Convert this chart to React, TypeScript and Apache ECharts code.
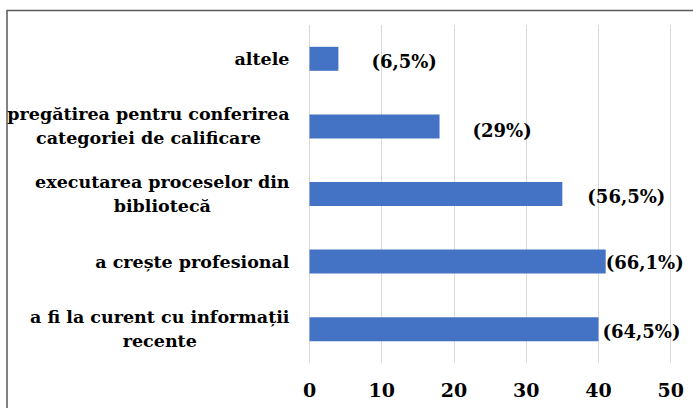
import React, { useEffect, useRef } from "react";
import * as echarts from "echarts";

const categories = [
  "a fi la curent cu informații\nrecente",
  "a crește profesional",
  "executarea proceselor din\nbibliotecă",
  "pregătirea pentru conferirea\ncategoriei de calificare",
  "altele",
];
const values = [40, 41, 35, 18, 4];
const valueLabels = ["(64,5%)", "(66,1%)", "(56,5%)", "(29%)", "(6,5%)"];
const labelGaps = [4, 0, 25, 33, 33];
const labelShiftY = [2, 1, 2, 4, 3];
const xTicks = { min: 0, max: 50, interval: 10 };

const FONT = "DejaVu Serif";

export default function App() {
  const ref = useRef<HTMLDivElement>(null);
  useEffect(() => {
    if (!ref.current) return;
    const chart = echarts.init(ref.current, null, { renderer: "svg" });
    chart.setOption({
      animation: false,
      backgroundColor: "#ffffff",
      graphic: [
        {
          type: "rect",
          z: -1,
          shape: { x: 7, y: 10.5, width: 720, height: 420 },
          style: { fill: "none", stroke: "#5a5a5a", lineWidth: 1.5 },
        },
      ],
      grid: {
        left: 309.5,
        right: 22.3,
        top: 25,
        bottom: 45,
        containLabel: false,
        outerBoundsMode: "none",
      },
      xAxis: {
        type: "value",
        min: xTicks.min,
        max: xTicks.max,
        interval: xTicks.interval,
        axisLine: { show: false },
        axisTick: { show: false },
        splitLine: { show: true, lineStyle: { color: "#d9d9d9", width: 1 } },
        axisLabel: {
          margin: 17,
          color: "#000",
          fontFamily: FONT,
          fontWeight: "bold",
          fontSize: 19,
        },
      },
      yAxis: {
        type: "category",
        data: categories,
        axisLine: { show: false },
        axisTick: { show: false },
        splitLine: { show: false },
        axisLabel: {
          margin: 20,
          align: "right",
          color: "#000",
          fontFamily: FONT,
          fontWeight: "bold",
          fontSize: 17.5,
          lineHeight: 24,
          formatter: (v: string) =>
            v
              .split("\n")
              .map((l) => `{c|${l}}`)
              .join("\n"),
          rich: {
            c: {
              align: "center",
              color: "#000",
              fontFamily: FONT,
              fontWeight: "bold",
              fontSize: 17.5,
              lineHeight: 24,
            },
          },
        },
      },
      series: [
        {
          type: "bar",
          barWidth: 24,
          itemStyle: { color: "#4472c4" },
          data: values.map((v, i) => ({
            value: v,
            label: { distance: labelGaps[i], offset: [0, labelShiftY[i]] },
          })),
          label: {
            show: true,
            position: "right",
            color: "#000",
            fontFamily: FONT,
            fontWeight: "bold",
            fontSize: 18,
            formatter: (p: any) => valueLabels[p.dataIndex],
          },
        },
      ],
    });
    return () => chart.dispose();
  }, []);
  return (
    <div
      ref={ref}
      style={{ position: "absolute", left: 0, top: 0, width: 693, height: 408 }}
    />
  );
}
